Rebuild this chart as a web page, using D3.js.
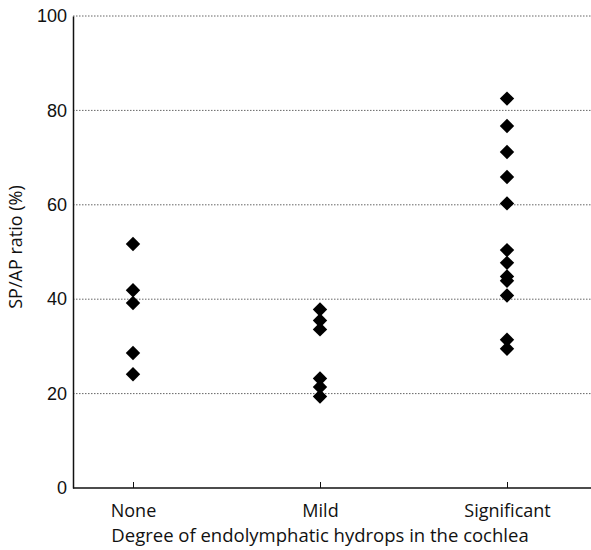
<!DOCTYPE html>
<html>
<head>
<meta charset="utf-8">
<script src="https://cdn.jsdelivr.net/npm/d3@7"></script>
<style>
  html, body { margin: 0; padding: 0; background: #fff; }
  #chart { width: 591px; height: 550px; }
</style>
</head>
<body>
<div id="chart"></div>
<script>
// groups on the x axis
const categories = ['None', 'Mild', 'Significant'];

// SP/AP ratio (%), one array per group
const noneValues = [51.7, 41.9, 39.2, 28.6, 24.1];
const mildValues = [37.8, 35.5, 33.6, 23.2, 21.4, 19.4];
const significantValues = [82.5, 76.7, 71.2, 65.9, 60.3, 50.4, 47.7, 44.8, 43.9, 40.8, 31.4, 29.5];

const yTicks = [0, 20, 40, 60, 80, 100];

const points = [
    ...noneValues.map(v => ({ cat: 'None', value: v })),
    ...mildValues.map(v => ({ cat: 'Mild', value: v })),
    ...significantValues.map(v => ({ cat: 'Significant', value: v }))
];

const width = 591;
const height = 550;
const margin = { top: 16, right: 0, bottom: 62, left: 73 };
const innerW = width - margin.left - margin.right;
const innerH = height - margin.top - margin.bottom;

const svg = d3.select('#chart')
    .append('svg')
    .attr('width', width)
    .attr('height', height);

const g = svg.append('g')
    .attr('transform', `translate(${margin.left},${margin.top})`);

const x = d3.scalePoint()
    .domain(categories)
    .range([60, 434]);

const y = d3.scaleLinear()
    .domain([0, 100])
    .range([innerH, 0]);

// dotted grid lines
g.append('g')
    .selectAll('line')
    .data(yTicks.filter(t => t > 0))
    .enter()
    .append('line')
    .attr('x1', 0)
    .attr('x2', innerW)
    .attr('y1', d => y(d))
    .attr('y2', d => y(d))
    .attr('stroke', '#666')
    .attr('stroke-width', 1)
    .attr('stroke-dasharray', '1.5,1.5');

// y axis
const yAxis = g.append('g')
    .call(d3.axisLeft(y).tickValues(yTicks).tickSize(0).tickPadding(6));
yAxis.select('.domain').attr('stroke', '#111').attr('stroke-width', 1.5);
yAxis.selectAll('text')
    .attr('font-family', '"Liberation Sans", Arial, sans-serif')
    .attr('font-size', 18)
    .attr('fill', '#111');

// x axis, ticks pointing up
const xAxis = g.append('g')
    .attr('transform', `translate(0,${innerH})`)
    .call(d3.axisBottom(x).tickSize(-6).tickPadding(16));
xAxis.select('.domain')
    .attr('d', `M0,0H${innerW}`)
    .attr('stroke', '#111')
    .attr('stroke-width', 1.5);
xAxis.selectAll('.tick line').attr('stroke', '#111');
xAxis.selectAll('text')
    .attr('font-family', '"Open Sans", "Noto Sans", sans-serif')
    .attr('font-size', 18)
    .attr('fill', '#111');

// diamonds
const diamond = d3.symbol().type(d3.symbolSquare).size(104);
g.selectAll('.pt')
    .data(points)
    .enter()
    .append('path')
    .attr('class', 'pt')
    .attr('d', diamond)
    .attr('transform', d => `translate(${x(d.cat)},${y(d.value)}) rotate(45)`)
    .attr('fill', '#000');

// axis titles
svg.append('text')
    .attr('x', margin.left + x('Mild'))
    .attr('y', 542)
    .attr('text-anchor', 'middle')
    .attr('font-family', '"Open Sans", "Noto Sans", sans-serif')
    .attr('font-size', 18.5)
    .attr('fill', '#111')
    .text('Degree of endolymphatic hydrops in the cochlea');

svg.append('text')
    .attr('transform', `translate(22,247) rotate(-90)`)
    .attr('text-anchor', 'middle')
    .attr('font-family', '"Open Sans", "Noto Sans", sans-serif')
    .attr('font-size', 18)
    .attr('fill', '#111')
    .text('SP/AP ratio (%)');
</script>
</body>
</html>
